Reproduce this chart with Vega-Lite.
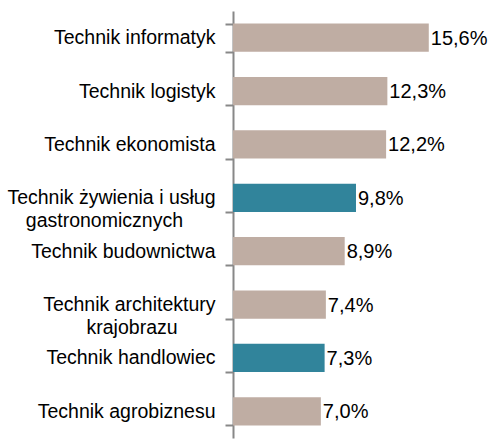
{
  "$schema": "https://vega.github.io/schema/vega-lite/v6.json",
  "autosize": "none",
  "padding": {"left": 233, "top": 11, "right": 6, "bottom": 3},
  "width": 251,
  "height": 427,
  "config": {
    "view": {"stroke": null},
    "font": "Liberation Sans",
    "locale": {"number": {"decimal": ",", "thousands": " ", "grouping": [3], "currency": ["", " zł"]}}
  },
  "data": {"values": [
    {"zawod": "Technik informatyk", "udzial": 0.156, "grupa": "a"},
    {"zawod": "Technik logistyk", "udzial": 0.123, "grupa": "a"},
    {"zawod": "Technik ekonomista", "udzial": 0.122, "grupa": "a"},
    {"zawod": "Technik żywienia i usług gastronomicznych", "udzial": 0.098, "grupa": "b"},
    {"zawod": "Technik budownictwa", "udzial": 0.089, "grupa": "a"},
    {"zawod": "Technik architektury krajobrazu", "udzial": 0.074, "grupa": "a"},
    {"zawod": "Technik handlowiec", "udzial": 0.073, "grupa": "b"},
    {"zawod": "Technik agrobiznesu", "udzial": 0.070, "grupa": "a"}
  ]},
  "encoding": {
    "y": {
      "field": "zawod", "type": "nominal", "sort": null,
      "scale": {"paddingInner": 0.47, "paddingOuter": 0.235},
      "axis": {
        "title": null, "tickBand": "extent",
        "domainColor": "#888888", "domainWidth": 2, "tickColor": "#888888", "tickWidth": 2, "tickSize": 8,
        "labelFontSize": 19.5, "labelColor": "#000000", "labelPadding": 10, "labelLimit": 300,
        "labelLineHeight": 23,
        "labelExpr": "datum.value == 'Technik żywienia i usług gastronomicznych' ? ['Technik żywienia i usług', 'gastronomicznych\u00a0\u00a0\u00a0\u00a0\u00a0\u00a0\u200b'] : datum.value == 'Technik architektury krajobrazu' ? ['Technik architektury', 'krajobrazu\u00a0\u00a0\u00a0\u00a0\u00a0\u00a0\u00a0\u200b'] : datum.value"
      }
    },
    "x": {"field": "udzial", "type": "quantitative", "scale": {"domain": [0, 0.2]}, "axis": null}
  },
  "layer": [
    {
      "mark": {"type": "bar"},
      "encoding": {
        "color": {"field": "grupa", "type": "nominal", "scale": {"domain": ["a", "b"], "range": ["#BFADA3", "#31849B"]}, "legend": null}
      }
    },
    {
      "mark": {"type": "text", "align": "left", "baseline": "middle", "dx": 2, "dy": 1, "fontSize": 20, "color": "#000000"},
      "encoding": {"text": {"field": "udzial", "type": "quantitative", "format": ".1%"}}
    }
  ]
}
